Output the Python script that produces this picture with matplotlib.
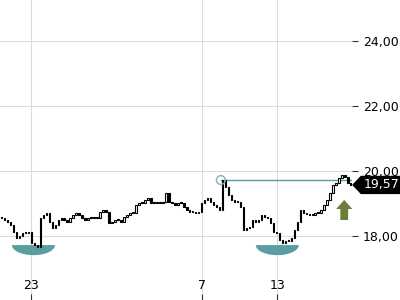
import numpy as np
import matplotlib
matplotlib.use("Agg")
import matplotlib.pyplot as plt
from matplotlib.patches import Polygon
import matplotlib.transforms as mtransforms

# closing prices, one per bar
close = [18.55, 18.49, 18.43, 18.34, 18.12, 17.94, 18.00, 18.09, 18.09, 18.12,
         17.78, 17.72, 17.66, 18.55, 18.65, 18.71, 18.43, 18.25, 18.34, 18.49,
         18.55, 18.49, 18.43, 18.55, 18.65, 18.71, 18.65, 18.55, 18.49, 18.55,
         18.55, 18.55, 18.55, 18.74, 18.80, 18.74, 18.40, 18.43, 18.49, 18.49,
         18.43, 18.58, 18.65, 18.71, 18.71, 18.95, 19.02, 19.02, 19.11, 19.17,
         19.02, 19.02, 19.02, 19.02, 19.05, 19.32, 19.05, 19.02, 18.95, 19.02,
         19.02, 18.89, 18.80, 18.74, 18.74, 18.71, 18.74, 19.02, 19.11, 19.17,
         19.05, 18.95, 18.89, 18.80, 19.72, 19.51, 19.26, 19.11, 19.05, 19.05,
         18.89, 18.18, 18.25, 18.28, 18.49, 18.43, 18.49, 18.65, 18.58, 18.55,
         18.40, 18.12, 18.09, 17.88, 17.78, 17.85, 17.85, 17.94, 18.18, 18.43,
         18.80, 18.71, 18.68, 18.65, 18.65, 18.71, 18.71, 18.80, 18.95, 19.11,
         19.32, 19.57, 19.63, 19.78, 19.88, 19.82, 19.63, 19.57]
open_ = [close[0]] + close[:-1]

tick_pos = [10, 67, 92.3]
tick_labels = ["23", "7", "13"]
y_ticks = [18, 20, 22, 24]

signal_idx = 74          # circle + horizontal level
bowl_centers = [10.7, 92.3]
last_price = close[-1]

teal = "#5a9ea2"

fig = plt.figure(figsize=(4, 3), dpi=100)
ax = fig.add_axes([0, 0, 0.88, 1])

x = np.arange(len(close))
for i in x:
    o, c = open_[i], close[i]
    lo, hi = min(o, c), max(o, c)
    h = max(hi - lo, 0.02)
    fc = "white" if c > o else "black"
    ax.bar(i, h, bottom=lo, width=0.5, color=fc, edgecolor="black",
           linewidth=0.8, zorder=3)

# level line from signal
lvl = close[signal_idx]
ax.plot([signal_idx - 0.6, 117.5], [lvl, lvl], color=teal, lw=1, zorder=2)
ax.scatter([signal_idx - 0.6], [lvl], s=40, facecolor="none",
           edgecolor="#7fb3b8", linewidth=1, zorder=4)

# bowls at the bottom
for cx in bowl_centers:
    t = np.linspace(np.pi, 2 * np.pi, 40)
    pts = np.column_stack([cx + 7.2 * np.cos(t), 17.72 + 0.31 * np.sin(t)])
    ax.add_patch(Polygon(pts, closed=True, color=teal, zorder=2, lw=0))

# green up arrow
ax_x = 114.7
arrow = [(ax_x - 1.3, 18.49), (ax_x + 1.3, 18.49), (ax_x + 1.3, 18.83),
         (ax_x + 2.7, 18.83), (ax_x, 19.11), (ax_x - 2.7, 18.83),
         (ax_x - 1.3, 18.83)]
ax.add_patch(Polygon(arrow, closed=True, color="#6b7d3a", lw=0, zorder=4))

# price tag
trans = mtransforms.blended_transform_factory(ax.transAxes, ax.transData)
tag = [(1.003, last_price), (1.026, last_price + 0.26), (1.14, last_price + 0.26),
       (1.14, last_price - 0.26), (1.026, last_price - 0.26)]
ax.add_patch(Polygon(tag, closed=True, transform=trans, color="black",
                     clip_on=False, zorder=5))
ax.text(1.083, last_price, f"{last_price:.2f}".replace(".", ","), transform=trans,
        color="white", fontsize=9, ha="center", va="center", zorder=6)

ax.set_xlim(-0.5, 117.3)
ax.set_ylim(16.03, 25.26)
ax.set_xticks(tick_pos)
ax.set_xticklabels(tick_labels)
ax.set_yticks(y_ticks)
ax.set_yticklabels([f"{v:.2f}".replace(".", ",") for v in y_ticks])
ax.yaxis.tick_right()
ax.tick_params(axis="y", length=4, pad=4, labelsize=9, color="#333333")
ax.tick_params(axis="x", direction="in", length=4, pad=-15, labelsize=9,
               color="#333333")
ax.grid(True, color="#dcdcdc", lw=0.8, zorder=0)
for s in ax.spines.values():
    s.set_visible(False)

fig.savefig("out.png", dpi=100)
